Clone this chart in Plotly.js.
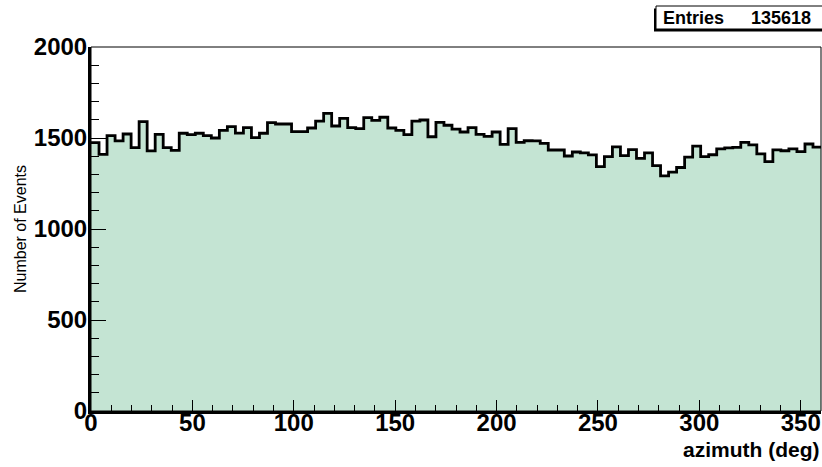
<!DOCTYPE html>
<html>
<head>
<meta charset="utf-8">
<script src="https://cdn.plot.ly/plotly-3.0.1.min.js"></script>
<style>
  html, body { margin: 0; padding: 0; background: #ffffff; }
  #chart { width: 822px; height: 467px; }
</style>
</head>
<body>
<div id="chart"></div>
<script>
// ---- data ----
const nBins = 91;
const xMin = 0;
const xMax = 360;
const counts = [
  1475, 1410, 1513, 1484, 1522, 1447, 1590, 1429, 1520, 1447,
  1432, 1526, 1518, 1526, 1513, 1500, 1542, 1562, 1527, 1557,
  1502, 1526, 1584, 1577, 1577, 1535, 1535, 1555, 1593, 1635,
  1566, 1608, 1557, 1551, 1612, 1597, 1614, 1555, 1542, 1518,
  1593, 1599, 1507, 1586, 1570, 1549, 1533, 1557, 1520, 1509,
  1533, 1465, 1551, 1476, 1485, 1484, 1471, 1434, 1434, 1401,
  1423, 1418, 1407, 1343, 1398, 1451, 1403, 1436, 1388, 1418,
  1348, 1292, 1312, 1338, 1395, 1455, 1398, 1408, 1440, 1446,
  1448, 1476, 1462, 1413, 1370, 1435, 1430, 1440, 1425, 1467,
  1450
];
const entries = 135618;
const xTitle = "azimuth (deg)";
const yTitle = "Number of Events";
const xTickVals = [0, 50, 100, 150, 200, 250, 300, 350];
const yTickVals = [0, 500, 1000, 1500, 2000];

// ---- build step outline (bin edges from the histogram binning) ----
const binW = (xMax - xMin) / nBins;
const xs = [], ys = [];
for (let i = 0; i < nBins; i++) { xs.push(xMin + i * binW); ys.push(counts[i]); }
xs.push(xMax); ys.push(counts[nBins - 1]);

// ---- geometry helpers (pixels -> paper) ----
const W = 822, H = 467;
const M = { l: 91, r: 1, t: 47, b: 56 };
const PW = W - M.l - M.r, PH = H - M.t - M.b;
const px = x => (x - M.l) / PW;
const py = y => (H - M.b - y) / PH;

const bold = { family: "Liberation Sans, Arial, sans-serif", size: 24, color: "#000", weight: 700 };

const trace = {
  type: "scatter",
  mode: "lines",
  x: xs,
  y: ys,
  line: { shape: "hv", color: "#000000", width: 2.8 },
  fill: "tozeroy",
  fillcolor: "rgb(196,228,211)",
  hoverinfo: "skip",
  showlegend: false
};

const layout = {
  width: W, height: H,
  margin: M,
  paper_bgcolor: "#ffffff",
  plot_bgcolor: "#ffffff",
  showlegend: false,
  xaxis: {
    range: [xMin, xMax],
    tickvals: xTickVals,
    ticktext: xTickVals.map(String),
    ticks: "inside", ticklen: 11, tickwidth: 1, tickcolor: "#000",
    minor: { dtick: 10, ticks: "inside", ticklen: 6, tickwidth: 1, tickcolor: "#000" },
    showgrid: false, zeroline: false,
    showline: true, linecolor: "#000", linewidth: 3, mirror: false,
    tickfont: bold,
    ticklabelstandoff: -12,
    fixedrange: true
  },
  yaxis: {
    range: [0, 2000],
    tickvals: yTickVals,
    ticktext: yTickVals.map(String),
    ticks: "inside", ticklen: 15, tickwidth: 1, tickcolor: "#000",
    minor: { dtick: 100, ticks: "inside", ticklen: 8, tickwidth: 1, tickcolor: "#000" },
    showgrid: false, zeroline: false,
    showline: true, linecolor: "#000", linewidth: 3, mirror: false,
    tickfont: bold,
    ticklabelstandoff: -4,
    title: { text: yTitle, font: { family: "Liberation Sans, Arial, sans-serif", size: 16, color: "#000" }, standoff: 4 },
    automargin: false,
    fixedrange: true
  },
  shapes: [
    // thin frame (top / right)
    { type: "rect", xref: "paper", yref: "paper", x0: 0, x1: 1, y0: 0, y1: 1,
      line: { color: "#000", width: 1 }, fillcolor: "rgba(0,0,0,0)", layer: "above" },
    // stats box shadow
    { type: "rect", xref: "paper", yref: "paper",
      x0: px(654), x1: px(830), y0: py(31.5), y1: py(8.5),
      line: { width: 0 }, fillcolor: "#000", layer: "above" },
    // stats box
    { type: "rect", xref: "paper", yref: "paper",
      x0: px(656), x1: px(830), y0: py(29), y1: py(6),
      line: { color: "#000", width: 1 }, fillcolor: "#fff", layer: "above" }
  ],
  annotations: [
    { xref: "paper", yref: "paper", x: px(822), y: py(449), xanchor: "right", yanchor: "middle",
      text: xTitle, showarrow: false,
      font: { family: "Liberation Sans, Arial, sans-serif", size: 21, color: "#000", weight: 700 } },
    { xref: "paper", yref: "paper", x: px(661), y: py(17.5), xanchor: "left", yanchor: "middle",
      text: "Entries", showarrow: false,
      font: { family: "Liberation Sans, Arial, sans-serif", size: 18, color: "#000", weight: 700 } },
    { xref: "paper", yref: "paper", x: px(813), y: py(17.5), xanchor: "right", yanchor: "middle",
      text: String(entries), showarrow: false,
      font: { family: "Liberation Sans, Arial, sans-serif", size: 18, color: "#000", weight: 700 } }
  ]
};

Plotly.newPlot("chart", [trace], layout, { staticPlot: true, displayModeBar: false });
</script>
</body>
</html>
